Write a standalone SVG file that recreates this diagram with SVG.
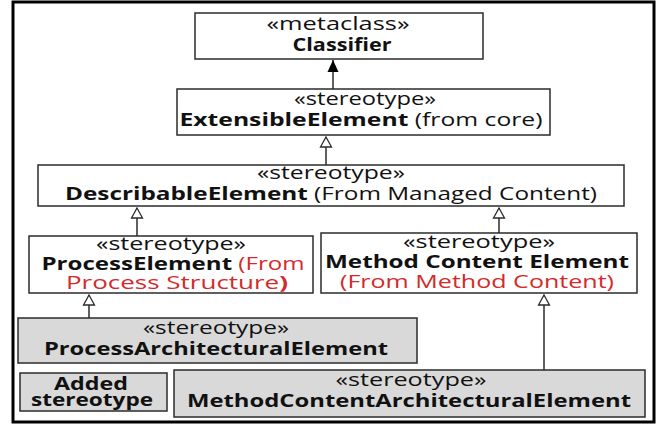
<svg xmlns="http://www.w3.org/2000/svg" width="657" height="425" viewBox="0 0 657 425">
  <style>
    .box { fill: #ffffff; stroke: #2b2b2b; stroke-width: 1.5; }
    .added { fill: #d9d9d9; stroke: #2b2b2b; stroke-width: 1.5; }
    .frame { fill: #ffffff; stroke: #000000; stroke-width: 3; }
    text { font-family: "Open Sans", "Noto Sans", "Liberation Sans", sans-serif; font-size: 18px; fill: #111111; text-anchor: middle; }
    .b { font-weight: bold; }
    .red { fill: #d42a2a; }
    .edge { stroke: #2b2b2b; stroke-width: 1.5; fill: none; }
  </style>
  <defs>
    <!-- hollow triangle of a generalization, drawn pointing up -->
    <marker id="gen" markerWidth="14" markerHeight="12" refX="7" refY="1" markerUnits="userSpaceOnUse" viewBox="0 0 14 12">
      <path d="M7,1 L12.5,11 L1.5,11 Z" fill="#ffffff" stroke="#2b2b2b" stroke-width="1.3"/>
    </marker>
    <!-- filled triangle of the extension, pointing up -->
    <marker id="solid" markerWidth="14" markerHeight="14" refX="7" refY="1" markerUnits="userSpaceOnUse" viewBox="0 0 14 14">
      <path d="M7,1 L12.5,13 L1.5,13 Z" fill="#000000"/>
    </marker>
  </defs>

  <rect class="frame" x="13" y="2" width="641" height="420"/>

  <g id="connectors">
    <line class="edge" x1="333" y1="89" x2="333" y2="60" marker-end="url(#solid)"/>
    <line class="edge" x1="326" y1="165" x2="326" y2="137" marker-end="url(#gen)"/>
    <line class="edge" x1="137" y1="236" x2="137" y2="208" marker-end="url(#gen)"/>
    <line class="edge" x1="499" y1="233" x2="499" y2="208" marker-end="url(#gen)"/>
    <line class="edge" x1="89" y1="318" x2="89" y2="295" marker-end="url(#gen)"/>
    <line class="edge" x1="544" y1="370" x2="544" y2="295" marker-end="url(#gen)"/>
  </g>

  <g id="classifier">
    <rect class="box" x="195" y="13" width="288" height="46"/>
    <text x="338" y="30" textLength="143" lengthAdjust="spacingAndGlyphs">«metaclass»</text>
    <text class="b" x="342" y="51" textLength="99" lengthAdjust="spacingAndGlyphs">Classifier</text>
  </g>

  <g id="extensible-element">
    <rect class="box" x="177" y="89" width="373" height="46"/>
    <text x="365" y="105" textLength="142" lengthAdjust="spacingAndGlyphs">«stereotype»</text>
    <text x="361" y="126" textLength="363" lengthAdjust="spacingAndGlyphs"><tspan class="b">ExtensibleElement</tspan> (from core)</text>
  </g>

  <g id="describable-element">
    <rect class="box" x="38" y="165" width="586" height="41"/>
    <text x="331" y="179" textLength="148" lengthAdjust="spacingAndGlyphs">«stereotype»</text>
    <text x="331" y="200" textLength="532" lengthAdjust="spacingAndGlyphs"><tspan class="b">DescribableElement</tspan> (From Managed Content)</text>
  </g>

  <g id="process-element">
    <rect class="box" x="29" y="236" width="284" height="57"/>
    <text x="171" y="250" textLength="150" lengthAdjust="spacingAndGlyphs">«stereotype»</text>
    <text x="173" y="270" textLength="263" lengthAdjust="spacingAndGlyphs"><tspan class="b">ProcessElement</tspan> <tspan class="red">(From</tspan></text>
    <text x="177" y="289" textLength="222" lengthAdjust="spacingAndGlyphs"><tspan class="red">Process Structure</tspan><tspan class="red b">)</tspan></text>
  </g>

  <g id="method-content-element">
    <rect class="box" x="321" y="233" width="316" height="60"/>
    <text x="479" y="248" textLength="152" lengthAdjust="spacingAndGlyphs">«stereotype»</text>
    <text class="b" x="477" y="268" textLength="304" lengthAdjust="spacingAndGlyphs">Method Content Element</text>
    <text class="red" x="477" y="288" textLength="274" lengthAdjust="spacingAndGlyphs">(From Method Content)</text>
  </g>

  <g id="process-architectural-element">
    <rect class="added" x="18" y="318" width="399" height="45"/>
    <text x="216" y="334" textLength="146" lengthAdjust="spacingAndGlyphs">«stereotype»</text>
    <text class="b" x="216" y="355" textLength="344" lengthAdjust="spacingAndGlyphs">ProcessArchitecturalElement</text>
  </g>

  <g id="added-stereotype">
    <rect class="added" x="20" y="373" width="147" height="38"/>
    <text class="b" x="91" y="390" textLength="74" lengthAdjust="spacingAndGlyphs">Added</text>
    <text class="b" x="92" y="406" textLength="122" lengthAdjust="spacingAndGlyphs">stereotype</text>
  </g>

  <g id="method-content-architectural-element">
    <rect class="added" x="174" y="370" width="471" height="47"/>
    <text x="411" y="386" textLength="151" lengthAdjust="spacingAndGlyphs">«stereotype»</text>
    <text class="b" x="409" y="407" textLength="444" lengthAdjust="spacingAndGlyphs">MethodContentArchitecturalElement</text>
  </g>
</svg>
